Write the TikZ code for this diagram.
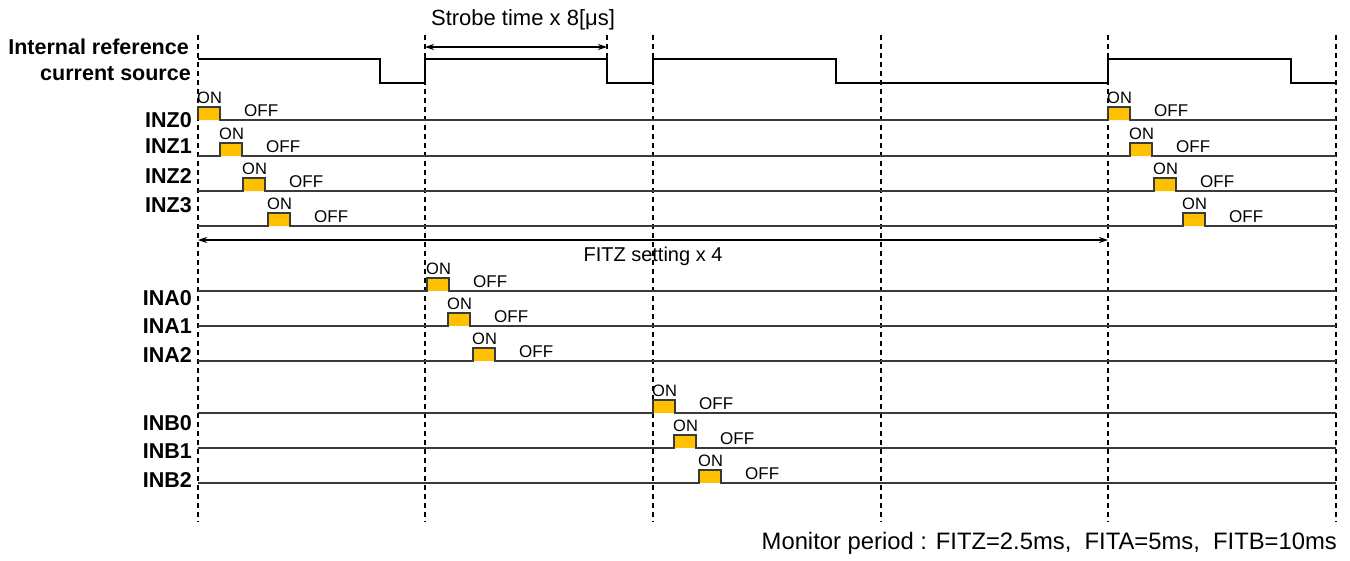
\documentclass[tikz,border=0pt]{standalone}
\usepackage{fontspec}
\setmainfont{Liberation Sans}
\usetikzlibrary{arrows.meta}
\definecolor{pulsefill}{HTML}{FFC000}
\definecolor{sigline}{HTML}{3A3A3A}
\tikzset{
  guide/.style={draw=black, line width=1.3pt, dash pattern=on 5pt off 4pt},
  wave/.style={draw=black, line width=1.5pt},
  sig/.style={draw=sigline, line width=1.8pt, line join=miter},
  dim/.style={draw=black, line width=1.2pt, {Stealth[length=9pt,width=6pt]}-{Stealth[length=9pt,width=6pt]}},
  siglbl/.style={font=\fontsize{21.5}{24}\selectfont\bfseries, inner sep=0pt, anchor=base east},
  onlbl/.style={font=\fontsize{16.5}{18}\selectfont, inner sep=0pt, anchor=base west},
  offlbl/.style={font=\fontsize{17}{19}\selectfont, inner sep=0pt, anchor=base west},
}
\newcommand\drawsig[3]{% name, baseline y, list of pulse starts
  \path[fill=pulsefill] \foreach \px in {#3} { (\px,#2) rectangle ++(22,-13) };
  \draw[sig] (198,#2) \foreach \px in {#3} { -- (\px,#2) -- (\px,#2-13) -- (\px+22,#2-13) -- (\px+22,#2) } -- (1336,#2);
  \foreach \px [count=\k] in {#3} {
    \node[onlbl] (#1on\k) at (\px-1,#2-17) {ON};
    \node[offlbl] (#1off\k) at (\px+46,#2-4) {OFF};
  }
}
\begin{document}
\begin{tikzpicture}[x=1pt,y=-1pt]
\useasboundingbox[fill=white] (0,0) rectangle (1350,560);
% guides
\foreach \gx [count=\i] in {198,425,653,881,1108,1336} {
  \coordinate (gt\i) at (\gx,35);
  \coordinate (gb\i) at (\gx,522);
  \draw[guide] (gt\i) -- (gb\i);
}
\coordinate (st) at (607,35);
\coordinate (sb) at (607,59);
\draw[guide] (st) -- (sb);
% reference current source waveform
\draw[wave] (198,59) -- (380,59) -- (380,83) -- (425,83) -- (425,59) -- (607,59) -- (607,83)
  -- (653,83) -- (653,59) -- (836,59) -- (836,83) -- (1108,83) -- (1108,59) -- (1291,59)
  -- (1291,83) -- (1336,83);
% strobe arrow
\coordinate (sa1) at (425,47);
\coordinate (sa2) at (607,47);
\draw[dim] (sa1) -- (sa2);
\node[font=\fontsize{22}{24}\selectfont, inner sep=0pt, anchor=base] (strobe) at (523,25) {Strobe time x 8[μs]};
% labels
\node[siglbl] (irc1) at (189,54) {Internal reference};
\node[siglbl] (irc2) at (191,80) {current source};
\node[siglbl] (lz0) at (192,127) {INZ0};
\node[siglbl] (lz1) at (192,153) {INZ1};
\node[siglbl] (lz2) at (192,183) {INZ2};
\node[siglbl] (lz3) at (192,212) {INZ3};
\node[siglbl] (la0) at (192,305) {INA0};
\node[siglbl] (la1) at (192,333) {INA1};
\node[siglbl] (la2) at (192,362) {INA2};
\node[siglbl] (lb0) at (192,430) {INB0};
\node[siglbl] (lb1) at (192,458) {INB1};
\node[siglbl] (lb2) at (192,487) {INB2};
% signals
\drawsig{z0}{120}{198,1108}
\drawsig{z1}{156}{220,1130}
\drawsig{z2}{191}{243,1154}
\drawsig{z3}{226}{268,1183}
\drawsig{a0}{291}{427}
\drawsig{a1}{326}{448}
\drawsig{a2}{361}{473}
\drawsig{b0}{413}{653}
\drawsig{b1}{448}{674}
\drawsig{b2}{483}{699}
% FITZ arrow
\coordinate (fa1) at (198,240);
\coordinate (fa2) at (1108,240);
\draw[dim] (fa1) -- (fa2);
\node[font=\fontsize{20}{22}\selectfont, inner sep=0pt, anchor=base] (fitz) at (653,261) {FITZ setting x 4};
% monitor period
\node[font=\fontsize{23.8}{26}\selectfont, inner sep=0pt, anchor=base east] (mon) at (1337,549) {Monitor period : FITZ=2.5ms,\ \ FITA=5ms,\ \ FITB=10ms};
\end{tikzpicture}
\end{document}
